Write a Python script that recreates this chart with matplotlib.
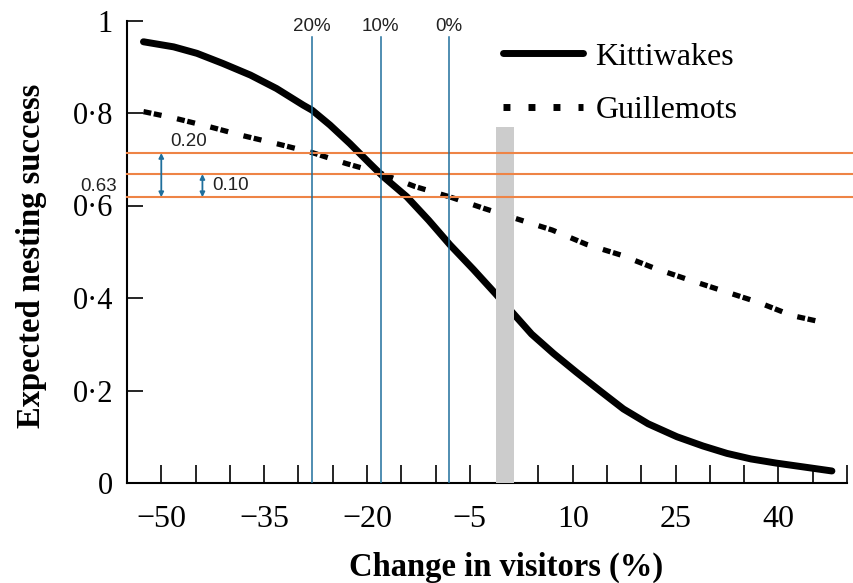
import matplotlib
matplotlib.use("Agg")
import matplotlib.pyplot as plt
from matplotlib.lines import Line2D

# values
kitti_x = [-52.6, -48.2, -44.8, -41, -37, -33.2, -29.3, -28, -25.4, -22.5, -19.6, -17.6, -14.2, -11, -7.9, -4.5, -1.3, 1.3, 4, 7.2, 10.5, 14, 17.4, 21, 25.2, 29, 32.5, 36, 39.7, 44, 47.8]
kitti_y = [0.954, 0.943, 0.929, 0.907, 0.882, 0.853, 0.817, 0.806, 0.774, 0.734, 0.691, 0.662, 0.619, 0.568, 0.515, 0.462, 0.410, 0.367, 0.322, 0.280, 0.240, 0.199, 0.160, 0.128, 0.100, 0.080, 0.064, 0.052, 0.043, 0.034, 0.026]

guill_x = [-52.6, -48.1, -42.9, -38.1, -33, -27.9, -23.1, -18.1, -13, -8, -3, 2.3, 7, 12, 17, 22, 27, 32, 37, 42, 47.5]
guill_y = [0.803, 0.789, 0.770, 0.751, 0.733, 0.714, 0.691, 0.670, 0.641, 0.619, 0.594, 0.569, 0.547, 0.516, 0.493, 0.464, 0.439, 0.415, 0.391, 0.362, 0.344]

vis_lines = [-28, -18, -8]
vis_labels = ["20%", "10%", "0%"]
success_levels = [0.7135, 0.668, 0.618]
bar_x = 0.1
bar_top = 0.77

xticks = list(range(-50, 55, 5))
xlabeled = [-50, -35, -20, -5, 10, 25, 40]
yticks = [0, 0.2, 0.4, 0.6, 0.8, 1.0]
ytick_labels = ["0", "0·2", "0·4", "0·6", "0·8", "1"]

blue = "#1f6f9c"
orange = "#ee8446"
serif = "Liberation Serif"
sans = "Liberation Sans"

fig = plt.figure(figsize=(8.54, 5.83), dpi=100)
ax = fig.add_axes([127/854, 100/583, 720/854, 462.5/583])

ax.plot(kitti_x, kitti_y, color="black", lw=5, solid_capstyle="round", zorder=3)
ax.plot(guill_x, guill_y, color="black", lw=3.8, linestyle=(0, (1.5, 0.5, 1.5, 3.0)), zorder=3)

ax.bar([bar_x], [bar_top], width=2.6, color="#cccccc", zorder=4)

for v in success_levels:
    ax.axhline(v, xmin=0, xmax=1.01, color=orange, lw=1.5, zorder=5, clip_on=False)
for v, lab in zip(vis_lines, vis_labels):
    ax.plot([v, v], [0, 0.964], color=blue, lw=1.1, zorder=5)
    ax.text(v, 0.988, lab, ha="center", va="center", fontsize=13.5, family=sans, color="#222222")

# difference arrows
ax.annotate("", xy=(-50, success_levels[0]), xytext=(-50, success_levels[2]),
            arrowprops=dict(arrowstyle="<|-|>", color=blue, lw=1.3, mutation_scale=7, shrinkA=0, shrinkB=0), zorder=6)
ax.annotate("", xy=(-44, success_levels[1]), xytext=(-44, success_levels[2]),
            arrowprops=dict(arrowstyle="<|-|>", color=blue, lw=1.3, mutation_scale=7, shrinkA=0, shrinkB=0), zorder=6)
ax.text(-48.7, 0.738, "0.20", ha="left", va="center", fontsize=13.5, family=sans, color="#222222")
ax.text(-42.5, 0.644, "0.10", ha="left", va="center", fontsize=13.5, family=sans, color="#222222")
ax.text(-56.5, 0.642, "0.63", ha="right", va="center", fontsize=13.5, family=sans, color="#222222", clip_on=False)

ax.set_xlim(-55, 50)
ax.set_ylim(0, 1)
ax.set_xticks(xticks)
ax.set_xticklabels([("−%d" % -t if t < 0 else str(t)) if t in xlabeled else "" for t in xticks])
ax.set_yticks(yticks)
ax.set_yticklabels(ytick_labels)
for lab in ax.get_xticklabels() + ax.get_yticklabels():
    lab.set_family(serif)
ax.tick_params(axis="x", direction="in", length=13, width=1.2, labelsize=23, pad=16)
ax.tick_params(axis="y", direction="in", length=11.5, width=1.2, labelsize=22, pad=10)
for s in ["top", "right"]:
    ax.spines[s].set_visible(False)
for s in ["left", "bottom"]:
    ax.spines[s].set_linewidth(1.5)

ax.set_xlabel("Change in visitors (%)", family=serif, fontsize=23.5, fontweight="bold")
ax.xaxis.set_label_coords(0.526, -0.148)
ax.set_ylabel("Expected nesting success", family=serif, fontsize=23.5, fontweight="bold")
ax.yaxis.set_label_coords(-0.111, 0.49)

handles = [Line2D([], [], color="black", lw=5, solid_capstyle="round"),
           Line2D([], [], color="black", lw=5, linestyle=(0, (1, 2.6)))]
ax.legend(handles, ["Kittiwakes", "Guillemots"], loc="upper left", bbox_to_anchor=(0.522, 0.953),
          frameon=False, prop={"family": serif, "size": 23}, handlelength=2.5, handletextpad=0.4,
          borderpad=0, borderaxespad=0, labelspacing=0.76)

fig.savefig("out.png", dpi=100)
